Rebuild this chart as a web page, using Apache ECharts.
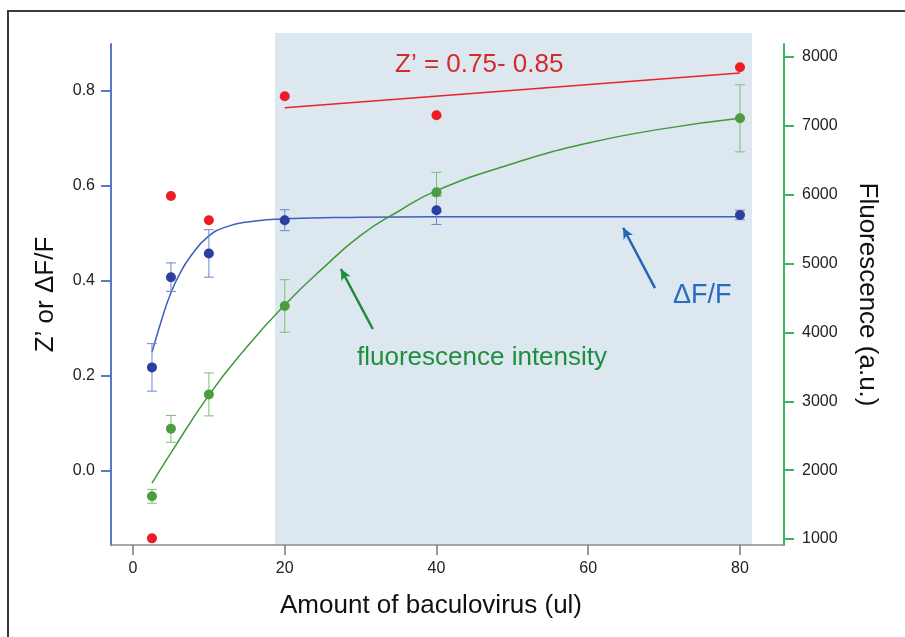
<!DOCTYPE html>
<html lang="en" style="height: 100%">
<head>
  <meta charset="utf-8">
</head>
<body style="height: 100%; margin: 0; background: #fff">
  <div id="container" style="width: 905px; height: 637px"></div>

  <script type="text/javascript" src="https://cdn.jsdelivr.net/npm/echarts@6/dist/echarts.min.js"></script>

  <script type="text/javascript">
    // amount of baculovirus (ul)
    var doses = [2.5, 5, 10, 20, 40, 80];
    // dF/F (left axis)
    var dffMean = [0.218, 0.408, 0.458, 0.528, 0.549, 0.539];
    var dffErr = [0.05, 0.03, 0.05, 0.022, 0.03, 0.01];
    // Z' (left axis)
    var zPrime = [-0.142, 0.579, 0.528, 0.789, 0.749, 0.85];
    // fluorescence intensity (right axis)
    var fluoMean = [1620, 2600, 3100, 4384, 6035, 7110];
    var fluoErr = [100, 195, 312, 382, 290, 487];

    // fitted curves
    var dffFitX = [2.5, 4, 5, 6, 7.5, 10, 12.5, 15, 20, 30, 40, 60, 80];
    var dffFitY = [0.25, 0.33, 0.375, 0.41, 0.45, 0.495, 0.515, 0.524, 0.531, 0.534, 0.535, 0.535, 0.535];
    var fluoFitX = [2.5, 5, 10, 15, 20, 25, 30, 35, 40, 50, 60, 70, 80];
    var fluoFitY = [1810, 2250, 3090, 3790, 4400, 4930, 5410, 5760, 6060, 6450, 6750, 6960, 7110];
    var zFitX = [20, 80];
    var zFitY = [0.765, 0.838];

    var xTicks = [0, 20, 40, 60, 80];
    var leftTicks = [0, 0.2, 0.4, 0.6, 0.8];
    var rightTicks = [1000, 2000, 3000, 4000, 5000, 6000, 7000, 8000];

    // shaded dose range and annotation arrows (tail -> head)
    var shadeRange = [18.7, 81.6];
    var dffArrow = [[68.8, 0.385], [64.6, 0.512]];
    var fluoArrow = [[31.6, 4050], [27.4, 4921]];

    var FONT = "'Liberation Sans', Arial, sans-serif";

    function pairs(xs, ys) {
      return xs.map(function (x, i) { return [x, ys[i]]; });
    }
    function bars(mean, err) {
      return doses.map(function (x, i) { return [x, mean[i] - err[i], mean[i] + err[i]]; });
    }
    function errorBar(color) {
      return function (params, api) {
        var x = api.value(0);
        var lo = api.coord([x, api.value(1)]);
        var hi = api.coord([x, api.value(2)]);
        var w = 5;
        var st = { stroke: color, lineWidth: 1 };
        return {
          type: 'group',
          children: [
            { type: 'line', shape: { x1: hi[0], y1: hi[1], x2: lo[0], y2: lo[1] }, style: st },
            { type: 'line', shape: { x1: hi[0] - w, y1: hi[1], x2: hi[0] + w, y2: hi[1] }, style: st },
            { type: 'line', shape: { x1: lo[0] - w, y1: lo[1], x2: lo[0] + w, y2: lo[1] }, style: st }
          ]
        };
      };
    }

    var dom = document.getElementById('container');
    var myChart = echarts.init(dom, null, { renderer: 'canvas' });
    var option;

    option = {
      animation: false,
      textStyle: { fontFamily: FONT },
      grid: { left: 111, right: 121, top: 44, bottom: 92 },
      xAxis: {
        type: 'value',
        min: -2.9,
        max: 85.8,
        axisLine: { show: true, onZero: false, lineStyle: { color: '#8c8c8c', width: 1.5 } },
        axisTick: { show: true, customValues: xTicks, length: 10, lineStyle: { color: '#777', width: 1.5 } },
        axisLabel: { customValues: xTicks, color: '#222', fontSize: 16, margin: 16, fontFamily: FONT },
        splitLine: { show: false }
      },
      yAxis: [
        {
          type: 'value',
          position: 'left',
          min: -0.156,
          max: 0.899,
          name: 'Z\u2019 or \u0394F/F',
          nameLocation: 'middle',
          nameGap: 52,
          nameTextStyle: { fontSize: 26, color: '#111', fontFamily: FONT },
          axisLine: { show: true, onZero: false, lineStyle: { color: '#5a78c8', width: 2 } },
          axisTick: { show: true, customValues: leftTicks, length: 10, lineStyle: { color: '#5a78c8', width: 2 } },
          axisLabel: {
            customValues: leftTicks, color: '#222', fontSize: 16, margin: 16, fontFamily: FONT,
            formatter: function (v) { return v.toFixed(1); }
          },
          splitLine: { show: false }
        },
        {
          type: 'value',
          position: 'right',
          min: 913,
          max: 8189,
          name: 'Fluorescence (a.u.)',
          nameLocation: 'middle',
          nameRotate: -90,
          nameGap: 70,
          nameTextStyle: { fontSize: 26, color: '#111', fontFamily: FONT },
          axisLine: { show: true, onZero: false, lineStyle: { color: '#3cb560', width: 2 } },
          axisTick: { show: true, customValues: rightTicks, length: 10, lineStyle: { color: '#3cb560', width: 2 } },
          axisLabel: {
            customValues: rightTicks, color: '#222', fontSize: 16, margin: 18, fontFamily: FONT,
            formatter: function (v) { return String(v); }
          },
          splitLine: { show: false }
        }
      ],
      series: [
        {
          name: 'Z fit',
          type: 'line',
          yAxisIndex: 0,
          data: pairs(zFitX, zFitY),
          showSymbol: false,
          lineStyle: { color: '#e8232a', width: 1.5 },
          z: 3
        },
        {
          name: 'dF/F fit',
          type: 'line',
          yAxisIndex: 0,
          data: pairs(dffFitX, dffFitY),
          smooth: 0.5,
          showSymbol: false,
          lineStyle: { color: '#3d5fbf', width: 1.5 },
          z: 3,
          markLine: {
            silent: true,
            symbol: ['none', 'arrow'],
            symbolSize: [8, 11],
            label: { show: false },
            lineStyle: { color: '#2565b5', width: 2.5, type: 'solid' },
            data: [[{ coord: dffArrow[0] }, { coord: dffArrow[1] }]]
          }
        },
        {
          name: 'fluo fit',
          type: 'line',
          yAxisIndex: 1,
          data: pairs(fluoFitX, fluoFitY),
          smooth: 0.5,
          showSymbol: false,
          lineStyle: { color: '#3f9a3a', width: 1.5 },
          z: 3,
          markLine: {
            silent: true,
            symbol: ['none', 'arrow'],
            symbolSize: [8, 11],
            label: { show: false },
            lineStyle: { color: '#1f8a3c', width: 2.5, type: 'solid' },
            data: [[{ coord: fluoArrow[0] }, { coord: fluoArrow[1] }]]
          }
        },
        {
          name: 'dF/F err',
          type: 'custom',
          yAxisIndex: 0,
          renderItem: errorBar('#6f86cc'),
          data: bars(dffMean, dffErr),
          z: 4
        },
        {
          name: 'fluo err',
          type: 'custom',
          yAxisIndex: 1,
          renderItem: errorBar('#7cbf78'),
          data: bars(fluoMean, fluoErr),
          z: 4
        },
        {
          name: 'Z\u2019',
          type: 'scatter',
          yAxisIndex: 0,
          data: pairs(doses, zPrime),
          symbolSize: 10,
          itemStyle: { color: '#ee1c24', opacity: 1 },
          z: 5
        },
        {
          name: 'dF/F',
          type: 'scatter',
          yAxisIndex: 0,
          data: pairs(doses, dffMean),
          symbolSize: 10,
          itemStyle: { color: '#2b3f9e', opacity: 1 },
          z: 5
        },
        {
          name: 'Fluorescence',
          type: 'scatter',
          yAxisIndex: 1,
          data: pairs(doses, fluoMean),
          symbolSize: 10,
          itemStyle: { color: '#4a9e3f', opacity: 1 },
          z: 5
        }
      ]
    };

    myChart.setOption(option);

    // shaded background band, positioned through the x axis scale
    var sx0 = myChart.convertToPixel({ xAxisIndex: 0 }, shadeRange[0]);
    var sx1 = myChart.convertToPixel({ xAxisIndex: 0 }, shadeRange[1]);
    var yBottom = myChart.convertToPixel({ yAxisIndex: 0 }, -0.156);

    myChart.setOption({
      graphic: [
        {
          type: 'rect', z: -10, silent: true,
          shape: { x: sx0, y: 33, width: sx1 - sx0, height: yBottom - 33 },
          style: { fill: '#dce7ef' }
        },
        {
          type: 'rect', z: 100, silent: true,
          shape: { x: 8, y: 11, width: 1000, height: 1000 },
          style: { fill: 'none', stroke: '#3a3a3a', lineWidth: 2 }
        },
        {
          type: 'text', z: 100, left: 395, top: 52,
          style: { text: 'Z\u2019 = 0.75- 0.85', fill: '#d42a2a', font: '26px ' + FONT }
        },
        {
          type: 'text', z: 100, left: 673, top: 282,
          style: { text: '\u0394F/F', fill: '#2a6bbf', font: '27px ' + FONT }
        },
        {
          type: 'text', z: 100, left: 357, top: 345,
          style: { text: 'fluorescence intensity', fill: '#1f8f3f', font: '26px ' + FONT }
        },
        {
          type: 'text', z: 100, left: 280, top: 593,
          style: { text: 'Amount of baculovirus (ul)', fill: '#111', font: '26px ' + FONT }
        }
      ]
    });

    window.addEventListener('resize', myChart.resize);
  </script>
</body>
</html>
